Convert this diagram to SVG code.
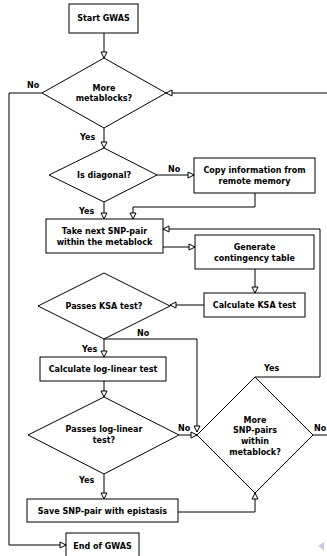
<svg xmlns="http://www.w3.org/2000/svg" width="327" height="556" viewBox="0 0 327 556">
<style>
.box{fill:#fff;stroke:#000;stroke-width:1}
.t{font-family:"DejaVu Sans",sans-serif;font-weight:bold;font-size:8px;fill:#000;text-anchor:middle}
.lbl{font-family:"DejaVu Sans",sans-serif;font-weight:bold;font-size:8px;fill:#000}
.c{fill:none;stroke:#000;stroke-width:1}
</style>
<defs>
<marker id="a" markerUnits="userSpaceOnUse" markerWidth="8" markerHeight="8" viewBox="-1 -1 8 8" refX="6" refY="3" orient="auto">
<path d="M0,0 L6,3 L0,6 Z" fill="#fff" stroke="#000" stroke-width="1"/>
</marker>
</defs>
<rect width="327" height="556" fill="#fff"/>
<g id="connectors">
<path class="c" d="M104,33 V58" marker-end="url(#a)"/>
<path class="c" d="M327,93 H166" marker-end="url(#a)"/>
<path class="c" d="M42,93 H9 V545 H66" marker-end="url(#a)"/>
<path class="c" d="M104,128 V148" marker-end="url(#a)"/>
<path class="c" d="M157,175 H194" marker-end="url(#a)"/>
<path class="c" d="M255,193 V207 H133 V219" marker-end="url(#a)"/>
<path class="c" d="M104,202 V219" marker-end="url(#a)"/>
<path class="c" d="M163,247 H195" marker-end="url(#a)"/>
<path class="c" d="M255,377 H320 V229 H163" marker-end="url(#a)"/>
<path class="c" d="M255,269 V293" marker-end="url(#a)"/>
<path class="c" d="M204,305 H170" marker-end="url(#a)"/>
<path class="c" d="M104,339 H197 V432" marker-end="url(#a)"/>
<path class="c" d="M104,339 V357" marker-end="url(#a)"/>
<path class="c" d="M104,381 V397" marker-end="url(#a)"/>
<path class="c" d="M179,435 H197" marker-end="url(#a)"/>
<path class="c" d="M104,474 V499" marker-end="url(#a)"/>
<path class="c" d="M178,512 H255 V493" marker-end="url(#a)"/>
<path class="c" d="M313,435 H327"/>
<text class="lbl" x="27" y="88">No</text>
<text class="lbl" x="80" y="140">Yes</text>
<text class="lbl" x="168" y="172">No</text>
<text class="lbl" x="79" y="214">Yes</text>
<text class="lbl" x="137" y="336">No</text>
<text class="lbl" x="82" y="352">Yes</text>
<text class="lbl" x="264" y="371">Yes</text>
<text class="lbl" x="178" y="431">No</text>
<text class="lbl" x="314" y="431">No</text>
<text class="lbl" x="79" y="483">Yes</text>
</g>
<g id="start"><rect class="box" x="69" y="4" width="69" height="29"/><text class="t" x="103.5" y="21">Start GWAS</text></g>
<g id="more-metablocks"><polygon class="box" points="104,58 166,93 104,128 42,93"/><text class="t" x="104" y="91">More</text><text class="t" x="104" y="101">metablocks?</text></g>
<g id="is-diagonal"><polygon class="box" points="104,148 157,175 104,202 49,175"/><text class="t" x="104" y="178">Is diagonal?</text></g>
<g id="copy-info"><rect class="box" x="194" y="158" width="121" height="35"/><text class="t" x="254.5" y="173">Copy information from</text><text class="t" x="254.5" y="184">remote memory</text></g>
<g id="take-next"><rect class="box" x="46" y="219" width="117" height="34"/><text class="t" x="104.5" y="234">Take next SNP-pair</text><text class="t" x="104.5" y="245">within the metablock</text></g>
<g id="generate"><rect class="box" x="195" y="235" width="119" height="34"/><text class="t" x="254.5" y="250">Generate</text><text class="t" x="254.5" y="261">contingency table</text></g>
<g id="calc-ksa"><rect class="box" x="204" y="293" width="101" height="24"/><text class="t" x="254.5" y="308">Calculate KSA test</text></g>
<g id="passes-ksa"><polygon class="box" points="104,273 170,306 104,339 38,306"/><text class="t" x="104" y="309">Passes KSA test?</text></g>
<g id="calc-loglinear"><rect class="box" x="40" y="357" width="126" height="24"/><text class="t" x="103" y="372">Calculate log-linear test</text></g>
<g id="passes-loglinear"><polygon class="box" points="104,397 179,435 104,474 28,435"/><text class="t" x="104" y="432">Passes log-linear</text><text class="t" x="104" y="443">test?</text></g>
<g id="more-snp"><polygon class="box" points="255,377 313,435 255,493 197,435"/><text class="t" x="255" y="423">More</text><text class="t" x="255" y="433">SNP-pairs</text><text class="t" x="255" y="444">within</text><text class="t" x="255" y="455">metablock?</text></g>
<g id="save"><rect class="box" x="27" y="499" width="151" height="23"/><text class="t" x="102.5" y="514">Save SNP-pair with epistasis</text></g>
<g id="end"><rect class="box" x="66" y="533" width="73" height="25"/><text class="t" x="102.5" y="549">End of GWAS</text></g>
<polygon points="324,542 318,546 324,550" fill="#c8c8e4"/>
</svg>
